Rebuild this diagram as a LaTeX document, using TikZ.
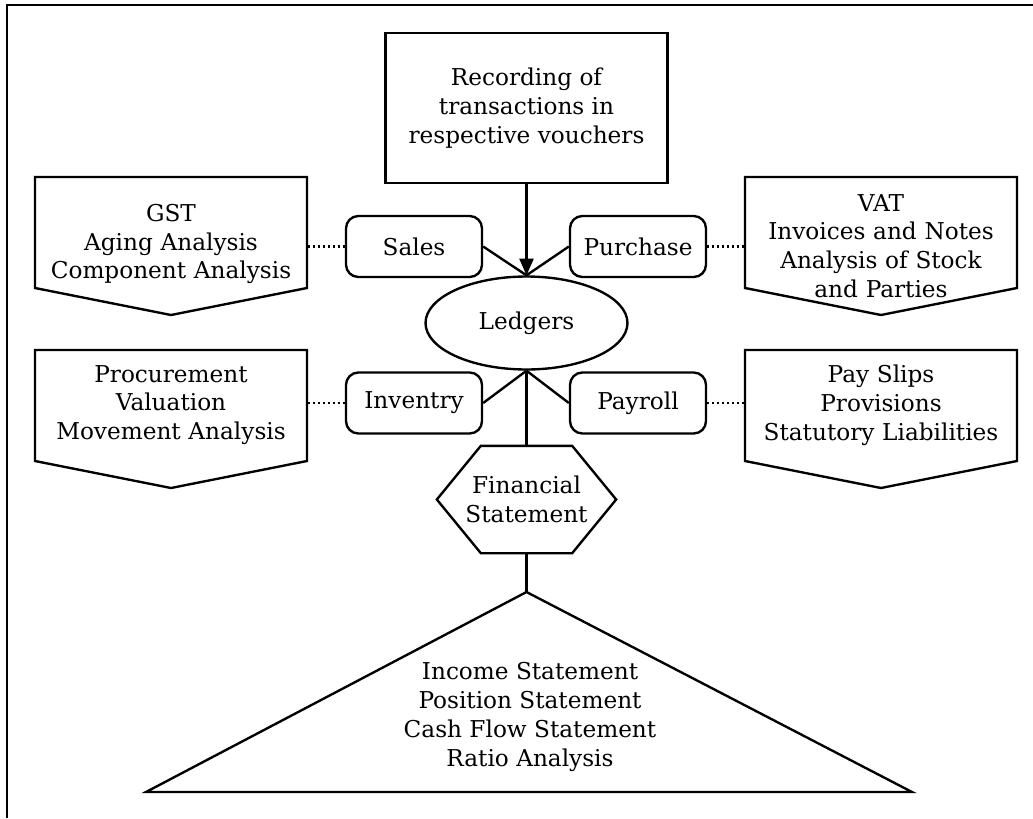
\documentclass[tikz,border=0pt]{standalone}
\usepackage{fontspec}
\setmainfont{DejaVu Serif}
\usetikzlibrary{shapes.geometric,arrows.meta}
\tikzset{
  subbox/.style={draw, rounded corners=7pt, minimum width=2.72cm, minimum height=1.22cm, inner sep=0pt},
  infobox/.style={text width=5.44cm, inner sep=0pt},
  link/.style={line width=1.2pt, dash pattern=on 1.1pt off 1.7pt}
}
\begin{document}
\begin{tikzpicture}[x=0.02cm,y=-0.02cm,line width=1.35pt,
  every node/.style={font=\fontsize{13.2}{16.4}\selectfont, align=center}]
\useasboundingbox (0,0) rectangle (1033,818);
% frame
\draw[line width=1.6pt] (7,818) -- (7,5) -- (1033,5);
% top and centre
\node[draw, minimum width=5.64cm, minimum height=3cm] (rec) at (526.5,108) {Recording of\\transactions in\\respective vouchers};
\node[draw, ellipse, minimum width=4.04cm, minimum height=1.86cm, inner sep=0pt] (led) at (526.5,323) {Ledgers};
\node[subbox] (sales) at (414,246.5) {Sales};
\node[subbox] (purch) at (638,246.5) {Purchase};
\node[subbox] (inv) at (414,403) {Inventry};
\node[subbox] (pay) at (638,403) {Payroll};
% side panels
\foreach \x/\y in {35/177,745/177,35/350,745/350}
  \draw (\x,\y) -- ++(272,0) -- ++(0,111) -- ++(-136,27) -- ++(-136,-27) -- cycle;
\node[infobox] (gst) at (171,244) {GST\\Aging Analysis\\Component Analysis};
\node[infobox] (vat) at (881,246) {VAT\\Invoices and Notes\\Analysis of Stock\\and Parties};
\node[infobox] (proc) at (171,405) {Procurement\\Valuation\\Movement Analysis};
\node[infobox] (slips) at (881,405) {Pay Slips\\Provisions\\Statutory Liabilities};
% statements
\node[minimum width=3.54cm, minimum height=2.1cm, inner sep=0pt] (fin) at (526.5,499.5) {Financial\\Statement};
\draw (fin.west) -- ([xshift=0.88cm]fin.north west) -- ([xshift=-0.88cm]fin.north east)
  -- (fin.east) -- ([xshift=-0.88cm]fin.south east) -- ([xshift=0.88cm]fin.south west) -- cycle;
\coordinate (apex) at (526.5,592);
\draw (apex) -- (912,792) -- (146,792) -- cycle;
\node (rep) at (530,717) {Income Statement\\Position Statement\\Cash Flow Statement\\Ratio Analysis};
% connectors
\draw[-{Triangle[length=9.5pt,width=8pt]}] (rec) -- (led);
\draw (sales.east) -- (led.north);
\draw (purch.west) -- (led.north);
\draw (inv.east) -- (led.south);
\draw (pay.west) -- (led.south);
\draw (led.south) -- (fin.north);
\draw (fin.south) -- (apex);
\draw[link] (gst.east |- sales.west) -- (sales.west);
\draw[link] (purch.east) -- (vat.west |- purch.east);
\draw[link] (proc.east |- inv.west) -- (inv.west);
\draw[link] (pay.east) -- (slips.west |- pay.east);
\end{tikzpicture}
\end{document}
